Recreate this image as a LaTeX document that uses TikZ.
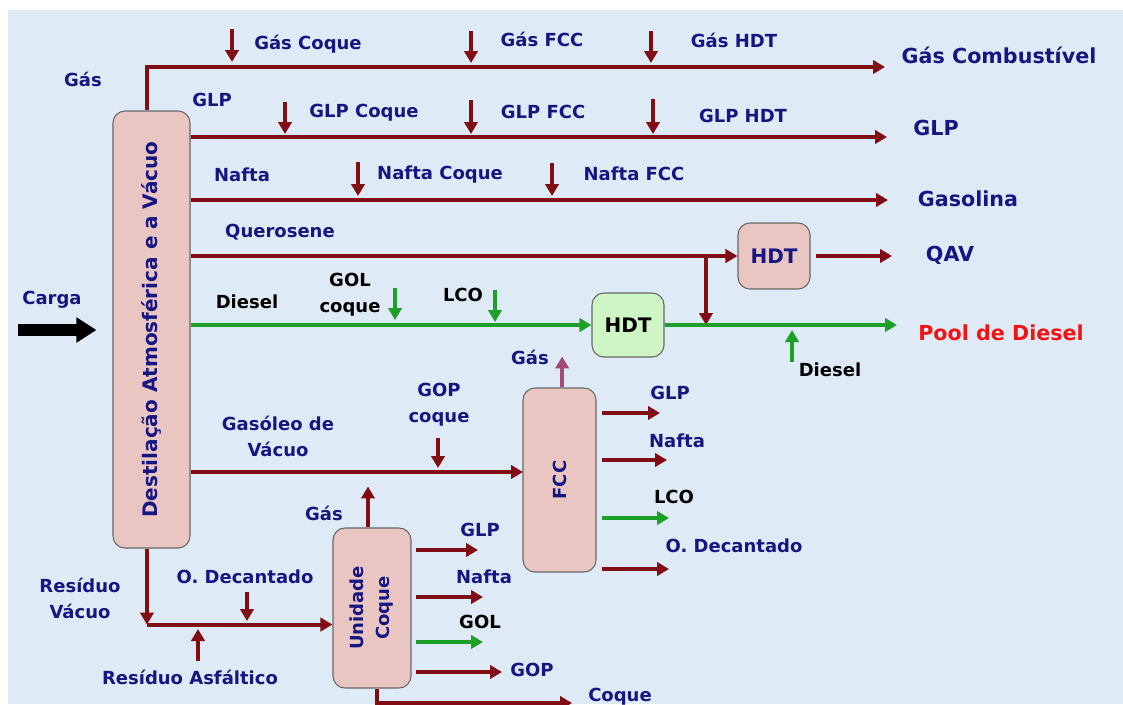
\documentclass[tikz,border=0pt]{standalone}
\usepackage{fontspec}
\setmainfont{DejaVu Sans}
\usetikzlibrary{arrows.meta, positioning, fit}

\definecolor{fundo}{RGB}{222,234,245}
\definecolor{linha}{RGB}{128,14,20}
\definecolor{verde}{RGB}{30,160,40}
\definecolor{azul}{RGB}{22,22,130}
\definecolor{caixa}{RGB}{234,198,194}
\definecolor{caixav}{RGB}{206,246,196}
\definecolor{gasfcc}{RGB}{165,75,115}
\definecolor{vermelho}{RGB}{240,20,20}

\begin{document}
\begin{tikzpicture}[x=0.75pt, y=-0.75pt,
  >={Triangle[length=9pt,width=10pt]},
  fluxo/.style={->, line width=3pt, draw=linha},
  fluxov/.style={fluxo, draw=verde},
  unid/.style={draw=black!60, line width=0.8pt, fill=caixa, rounded corners=9pt, inner sep=0pt},
  rot/.style={font=\bfseries\fontsize{13.5}{19.5}\selectfont, text=azul, inner sep=1pt, align=center},
  rotp/.style={rot, text=black},
  saida/.style={rot, font=\bfseries\fontsize{15.5}{19}\selectfont}]

  \useasboundingbox (0,0) rectangle (1123,704);
  \fill[white] (0,0) rectangle (1123,704);
  \fill[fundo] (8,10) rectangle (1123,704);

  % unidades
  \node[unid, fit={(113,111) (190,548)}] (dest) {};
  \node[rot, rotate=90, font=\bfseries\fontsize{15}{18}\selectfont] (tdest) at (dest.center) {Destilação Atmosférica e a Vácuo};
  \node[unid, fit={(523,388) (596,572)}] (fcc) {};
  \node[rot, rotate=90] (tfcc) at (fcc.center) {FCC};
  \node[unid, fit={(333,528) (411,688)}] (coq) {};
  \node[rot, rotate=90] (tcoq) at (coq.center) {Unidade\\Coque};
  \node[unid, fill=caixav, fit={(592,293) (664,357)}] (hdtd) {};
  \node[rotp, font=\bfseries\fontsize{15}{18}\selectfont] (thdtd) at (hdtd.center) {HDT};
  \node[unid, fit={(738,223) (810,289)}] (hdtq) {};
  \node[rot, font=\bfseries\fontsize{15}{18}\selectfont] (thdtq) at (hdtq.center) {HDT};

  % produtos
  \node[saida] (lgcomb) at (999,55) {Gás Combustível};
  \node[saida] (lglp) at (936,128) {GLP};
  \node[saida] (lgasol) at (968,199) {Gasolina};
  \node[saida] (lqav) at (950,255) {QAV};
  \node[saida, text=vermelho] (lpool) at (1001,333) {Pool de Diesel};

  \coordinate (fgas) at (885,67);
  \coordinate (fglp) at (887,137);
  \coordinate (fnafta) at (888,200);
  \coordinate (fqav) at (892,256);
  \coordinate (fpool) at (897,325);
  \coordinate (ramo) at (706,256);
  \coordinate (govin) at (523,472);
  \coordinate (fcoque) at (572,703);
  \coordinate (carga) at (18,330);
  \coordinate (dtopo) at ([xshift=-3.4pt]dest.north);
  \coordinate (dbase) at ([xshift=-3.4pt]dest.south);
  \path (dbase) ++(0,76) coordinate (rv);

  \draw[fluxo] (dtopo) |- (fgas);
  \draw[fluxo] (dest.east |- fglp) -- (fglp);
  \draw[fluxo] (dest.east |- fnafta) -- (fnafta);
  \draw[fluxo] (dest.east |- hdtq.west) -- (hdtq.west);
  \draw[fluxo, shorten <=4pt] (hdtq.east) -- (fqav);
  \draw[fluxo] (ramo) -- (ramo |- hdtd.west);
  \draw[fluxov] (dest.east |- hdtd.west) -- (hdtd.west);
  \draw[fluxov] (hdtd.east) -- (fpool);
  \draw[fluxo] (dest.east |- govin) -- (govin);
  \draw[fluxo] (dbase) -- (rv);
  \draw[fluxo] (rv) -- (rv -| coq.west);
  \draw[-{Triangle[length=15pt,width=18pt]}, line width=9pt, shorten >=12pt] (carga) -- (carga -| dest.west);

  % correntes que entram
  \foreach \x/\y/\l in {232/29/33, 471/31/32, 651/31/32, 285/102/32, 471/100/34, 653/99/35, 358/162/34, 552/163/33, 438/438/30, 247/592/29}
    \draw[fluxo] (\x,\y) -- ++(0,\l);
  \foreach \x/\y in {395/288, 495/290}
    \draw[fluxov] (\x,\y) -- ++(0,32);
  \draw[fluxov] (792,362) -- ++(0,-32);
  \draw[fluxo] (198,661) -- ++(0,-32);

  % saidas FCC e coque
  \draw[fluxo, draw=gasfcc] ([xshift=2pt]fcc.north) -- ++(0,-31);
  \foreach \y/\xf/\cor in {413/660/linha, 460/667/linha, 518/669/verde, 569/669/linha}
    \draw[fluxo, draw=\cor, shorten <=4pt] (fcc.east |- 0,\y) -- (\xf,\y);
  \draw[fluxo] ([xshift=-3pt]coq.north) -- ++(0,-41);
  \foreach \y/\xf/\cor in {550/478/linha, 597/483/linha, 642/483/verde, 672/502/linha}
    \draw[fluxo, draw=\cor, shorten <=3pt] (coq.east |- 0,\y) -- (\xf,\y);
  \draw[fluxo] ([xshift=3.5pt]coq.south) |- (fcoque);

  % rotulos
  \node[rot] (lgc) at (308,44) {Gás Coque};
  \node[rot] (lgf) at (542,39) {Gás FCC};
  \node[rot] (lgh) at (734,40) {Gás HDT};
  \node[rot] (lgas) at (83,79) {Gás};
  \node[rot] (lglp0) at (212,100) {GLP};
  \node[rot] (llc) at (364,113) {GLP Coque};
  \node[rot] (llf) at (543,112) {GLP FCC};
  \node[rot] (llh) at (743,116) {GLP HDT};
  \node[rot] (lnaf) at (242,175) {Nafta};
  \node[rot] (lnc) at (440,175) {Nafta Coque};
  \node[rot] (lnf) at (634,174) {Nafta FCC};
  \node[rot] (lquer) at (280,232) {Querosene};
  \node[rot] (lcarga) at (52,300) {Carga};
  \node[rotp] (ldies) at (247,302) {Diesel};
  \node[rotp] (lgolc) at (350,295) {GOL\\coque};
  \node[rotp] (llco) at (463,295) {LCO};
  \node[rotp] (ldies2) at (830,370) {Diesel};
  \node[rot] (lgasf) at (530,357) {Gás};
  \node[rot] (lgopc) at (439,405) {GOP\\coque};
  \node[rot] (lgov) at (278,436) {Gasóleo de\\Vácuo};
  \node[rot] (lfglp) at (670,393) {GLP};
  \node[rot] (lfnaf) at (677,441) {Nafta};
  \node[rotp] (lflco) at (674,497) {LCO};
  \node[rot] (lfod) at (734,546) {O. Decantado};
  \node[rot] (lcgas) at (324,513) {Gás};
  \node[rot] (lcglp) at (480,530) {GLP};
  \node[rot] (lcnaf) at (484,577) {Nafta};
  \node[rotp] (lcgol) at (480,622) {GOL};
  \node[rot] (lcgop) at (532,670) {GOP};
  \node[rot] (lccoq) at (620,697) {Coque};
  \node[rot] (lrv) at (80,598) {Resíduo\\Vácuo};
  \node[rot] (lod) at (245,577) {O. Decantado};
  \node[rot] (lra) at (190,677) {Resíduo Asfáltico};
\end{tikzpicture}
\end{document}
